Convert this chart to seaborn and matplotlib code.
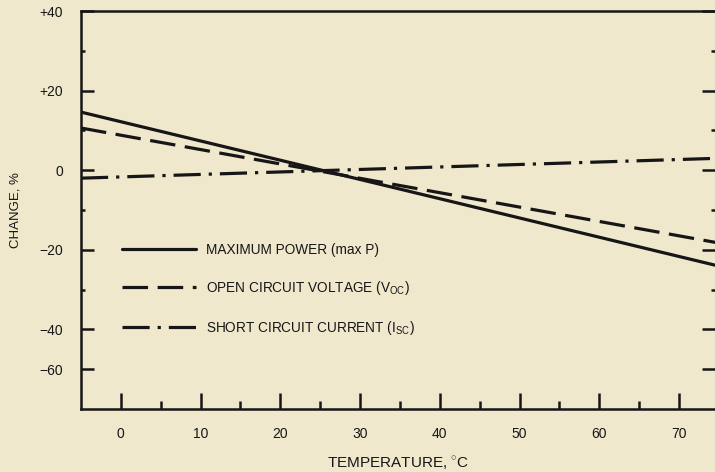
import matplotlib
matplotlib.use("Agg")
import matplotlib.pyplot as plt
import seaborn as sns
import pandas as pd

# ---- data ----
temperature = [-5, 75]                       # °C, line end points
max_power = [14.6, -24.1]                    # % change
open_circuit_voltage = [10.6, -18.3]         # % change
short_circuit_current = [-2.0, 3.0]          # % change

series_names = ["MAXIMUM POWER (max P)",
                "OPEN CIRCUIT VOLTAGE (V$_{\\mathregular{OC}}$)",
                "SHORT CIRCUIT CURRENT (I$_{\\mathregular{SC}}$)"]

x_ticks = [0, 10, 20, 30, 40, 50, 60, 70]
x_tick_labels = ["0", "10", "20", "30", "40", "50", "60", "70"]
y_ticks = [40, 20, 0, -20, -40, -50]
y_tick_labels = ["+40", "+20", "0", "\u221220", "\u221240", "\u221260"]

df = pd.concat([
    pd.DataFrame({"T": temperature, "change": vals, "series": name})
    for name, vals in zip(series_names,
                          [max_power, open_circuit_voltage, short_circuit_current])
], ignore_index=True)

bg = "#efe8cd"
ink = "#161616"

sns.set_theme(style="ticks")
plt.rcParams["font.family"] = ["Liberation Sans", "DejaVu Sans"]
plt.rcParams["mathtext.fontset"] = "custom"
plt.rcParams["mathtext.rm"] = "Liberation Sans"

fig = plt.figure(figsize=(7.15, 4.72), dpi=100, facecolor=bg)
ax = fig.add_axes([81 / 715, 63 / 472, 1 - 81 / 715, (409 - 11) / 472])
ax.set_facecolor(bg)

dashes = {series_names[0]: "",
          series_names[1]: (8, 3),
          series_names[2]: (8.5, 2.5, 1, 2.5)}
sns.lineplot(data=df, x="T", y="change", style="series", dashes=dashes,
             color=ink, linewidth=2.3, legend=False, ax=ax)

ax.set_xlim(-5, 74.5)
ax.set_ylim(-60, 40)

ax.set_xticks(x_ticks)
ax.set_xticklabels(x_tick_labels)
ax.set_xticks([5, 15, 25, 35, 45, 55, 65], minor=True)
ax.set_yticks(y_ticks)
ax.set_yticklabels(y_tick_labels)
ax.set_yticks([30, 10, -10, -30], minor=True)

ax.tick_params(axis="both", which="major", direction="in", length=11.5,
               width=1.8, color=ink, labelsize=10, labelcolor=ink, pad=13)
ax.tick_params(axis="both", which="minor", direction="in", length=5.5,
               width=1.8, color=ink)
ax.tick_params(axis="y", which="major", right=True, length=9.5)
ax.tick_params(axis="y", which="minor", right=True, length=3)

for side in ["left", "bottom", "top"]:
    ax.spines[side].set_color(ink)
    ax.spines[side].set_linewidth(1.8)
ax.spines["right"].set_visible(False)

ax.set_xlabel("TEMPERATURE, $^{\\circ}$C", fontsize=11, color=ink, labelpad=10)
ax.set_ylabel("CHANGE, %", fontsize=9.5, color=ink, labelpad=13)

leg = ax.legend(handles=ax.lines[:3], labels=series_names,
                loc="upper left", bbox_to_anchor=(0.054, 0.435),
                frameon=False, fontsize=9.8, handlelength=5.4,
                handletextpad=0.75, labelspacing=1.62, borderpad=0)
for t in leg.get_texts():
    t.set_color(ink)

fig.savefig("out.png", dpi=100, facecolor=bg)
